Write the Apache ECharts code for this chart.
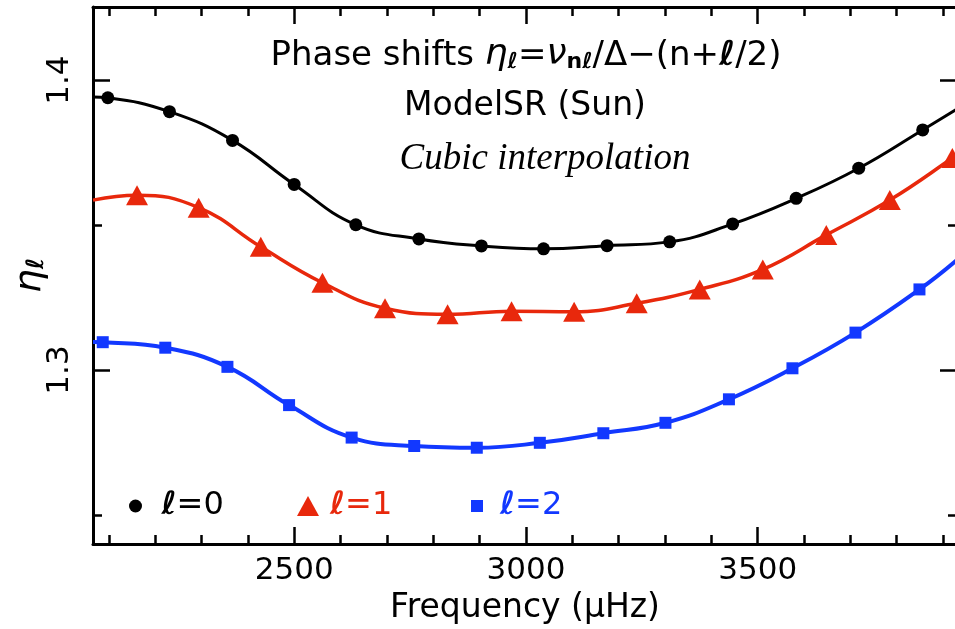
<!DOCTYPE html>
<html><head><meta charset="utf-8">
<script src="https://cdn.jsdelivr.net/npm/echarts@6/dist/echarts.min.js"></script>
<style>html,body{margin:0;padding:0;background:#fff}#c{width:955px;height:629px}</style>
</head><body><div id="c"></div>
<script>
// ---- data ----
const freqL0 = [2098, 2231, 2367, 2500, 2633, 2769, 2904, 3038, 3175, 3310, 3446, 3583, 3718, 3856];
const etaL0  = [1.3939, 1.3891, 1.3792, 1.3640, 1.3501, 1.3452, 1.3428, 1.3418, 1.3429, 1.3442, 1.3504, 1.3592, 1.3696, 1.3828];
const freqL1 = [2161, 2294, 2428, 2561, 2696, 2831, 2969, 3104, 3239, 3375, 3511, 3648, 3785, 3920];
const etaL1  = [1.3603, 1.3560, 1.3425, 1.3301, 1.3213, 1.3192, 1.3203, 1.3201, 1.3230, 1.3278, 1.3347, 1.3466, 1.3586, 1.3731];
const freqL2 = [2087, 2222, 2356, 2489, 2624, 2759, 2894, 3030, 3167, 3301, 3438, 3575, 3711, 3849];
const etaL2  = [1.3096, 1.3077, 1.3011, 1.2879, 1.2767, 1.2738, 1.2732, 1.2749, 1.2782, 1.2818, 1.2899, 1.3006, 1.3129, 1.3278];
// interpolated curve values read at the frame edges
const edgeFreq = [2066, 3930];
const edgeL0 = [1.3942, 1.3900];
const edgeL1 = [1.3586, 1.3745];
const edgeL2 = [1.3097, 1.3380];
const seriesNames = ['ℓ=0', 'ℓ=1', 'ℓ=2'];
// axes
const xRange = [2066, 3930];
const yRange = [1.24, 1.4252];
const xMajorTicks = [2500, 3000, 3500];
const xMinorTicks = [2100, 2200, 2300, 2400, 2600, 2700, 2800, 2900, 3100, 3200, 3300, 3400, 3600, 3700, 3800, 3900];
const yMajorTicks = [1.3, 1.4];
const yMinorTicks = [1.25, 1.35];

const FONT = 'DejaVu Sans';
const C0 = '#000000', C1 = '#e8280c', C2 = '#1238ff';
const TRI = 'path://M11,0L22,20L0,20Z';
const SQR = 'path://M0,0L12,0L12,12L0,12Z';

function pairs(xs, ys) { return xs.map((x, i) => [x, ys[i]]); }
function curve(xs, ys, ex, ey) { return [[ex[0], ey[0]]].concat(pairs(xs, ys), [[ex[1], ey[1]]]); }

function axis(dim, position, ticks, len, opts) {
  const a = {
    type: 'value', position: position,
    min: dim === 'x' ? xRange[0] : yRange[0],
    max: dim === 'x' ? xRange[1] : yRange[1],
    axisLine: { show: !!opts.line, onZero: false, lineStyle: { color: '#000', width: 3 } },
    axisTick: { show: true, inside: true, length: len, customValues: ticks, lineStyle: { color: '#000', width: 2.5 } },
    axisLabel: { show: false },
    splitLine: { show: false }
  };
  if (opts.label) {
    a.axisLabel = Object.assign({ show: true, customValues: ticks, color: '#000', fontFamily: FONT, fontSize: 31,
      formatter: v => String(v) }, opts.label);
  }
  if (opts.name) Object.assign(a, opts.name);
  return a;
}

function legendFor(i, icon, color, left, w, h) {
  return {
    data: [{ name: seriesNames[i], icon: icon }], left: left, top: 485,
    itemWidth: w, itemHeight: h, selectedMode: false, symbolKeepAspect: true,
    itemStyle: { color: color, opacity: 1 },
    formatter: n => '{l|' + n.charAt(0) + '}{t|' + n.slice(1) + '}',
    textStyle: { rich: {
      l: { fontFamily: FONT, fontSize: 32, fontStyle: 'italic', fontWeight: 'bold', color: color },
      t: { fontFamily: FONT, fontSize: 32, color: color }
    } }
  };
}

const chart = echarts.init(document.getElementById('c'), null, { renderer: 'canvas' });
chart.setOption({
  backgroundColor: '#fff',
  animation: false,
  grid: { left: 93, top: 7, width: 864, height: 537, containLabel: false, outerBoundsMode: 'none' },
  xAxis: [
    axis('x', 'bottom', xMajorTicks, 17, {
      line: true, label: { margin: 11 },
      name: { name: 'Frequency (μHz)', nameLocation: 'middle', nameGap: 48, nameMoveOverlap: false,
              nameTextStyle: { color: '#000', fontFamily: FONT, fontSize: 33 } }
    }),
    axis('x', 'bottom', xMinorTicks, 9, {}),
    axis('x', 'top', xMajorTicks, 17, { line: true }),
    axis('x', 'top', xMinorTicks, 9, {})
  ],
  yAxis: [
    axis('y', 'left', yMajorTicks, 17, {
      line: true, label: { rotate: 90, margin: 18 },
      name: { name: '{b|η}{s|ℓ}', nameLocation: 'middle', nameGap: 44, nameRotate: 90, nameMoveOverlap: false,
              nameTextStyle: { rich: {
                b: { fontFamily: FONT, fontSize: 38, fontStyle: 'italic', color: '#000', lineHeight: 48, verticalAlign: 'bottom' },
                s: { fontFamily: FONT, fontSize: 24, fontWeight: 'bold', fontStyle: 'italic', color: '#000', lineHeight: 24, verticalAlign: 'bottom' }
              } } }
    }),
    axis('y', 'left', yMinorTicks, 9, {}),
    axis('y', 'right', yMajorTicks, 17, { line: true }),
    axis('y', 'right', yMinorTicks, 9, {})
  ],
  legend: [
    legendFor(0, 'circle', C0, 124, 42, 13),
    legendFor(1, TRI, C1, 292, 34, 20),
    legendFor(2, SQR, C2, 466, 36, 12)
  ],
  graphic: [
    { type: 'text', x: 526, y: 53, style: {
        text: '{a|Phase shifts }{b|η}{s|ℓ}{a|=}{b|ν}{s|nℓ}{a|/Δ−(n+}{l|ℓ}{a|/2)}',
        align: 'center', verticalAlign: 'middle',
        rich: {
          a: { fontFamily: FONT, fontSize: 34, fill: '#000', lineHeight: 40, verticalAlign: 'bottom' },
          b: { fontFamily: FONT, fontSize: 36, fontStyle: 'italic', fill: '#000', lineHeight: 40, verticalAlign: 'bottom' },
          l: { fontFamily: FONT, fontSize: 34, fontStyle: 'italic', fontWeight: 'bold', fill: '#000', lineHeight: 40, verticalAlign: 'bottom' },
          s: { fontFamily: FONT, fontSize: 22, fontWeight: 'bold', fill: '#000', lineHeight: 18, verticalAlign: 'bottom' }
        } } },
    { type: 'text', x: 525, y: 106, style: { text: 'ModelSR (Sun)', align: 'center', verticalAlign: 'middle',
        font: '33px "DejaVu Sans"', fill: '#000' } },
    { type: 'text', x: 545, y: 159, style: { text: 'Cubic interpolation', align: 'center', verticalAlign: 'middle',
        font: 'italic 37px "Liberation Serif"', fill: '#000' } }
  ],
  series: [
    { type: 'line', name: 'curve0', data: curve(freqL0, etaL0, edgeFreq, edgeL0), smooth: 0.45, symbol: 'none',
      lineStyle: { color: C0, width: 3 }, silent: true, z: 2 },
    { type: 'line', name: 'curve1', data: curve(freqL1, etaL1, edgeFreq, edgeL1), smooth: 0.45, symbol: 'none',
      lineStyle: { color: C1, width: 3.5 }, silent: true, z: 2 },
    { type: 'line', name: 'curve2', data: curve(freqL2, etaL2, edgeFreq, edgeL2), smooth: 0.45, symbol: 'none',
      lineStyle: { color: C2, width: 4 }, silent: true, z: 2 },
    { type: 'scatter', name: seriesNames[0], data: pairs(freqL0, etaL0), symbol: 'circle', symbolSize: 13,
      itemStyle: { color: C0, opacity: 1 }, z: 3 },
    { type: 'scatter', name: seriesNames[1], data: pairs(freqL1, etaL1), symbol: 'triangle', symbolSize: [22, 20],
      itemStyle: { color: C1, opacity: 1 }, z: 3 },
    { type: 'scatter', name: seriesNames[2], data: pairs(freqL2, etaL2), symbol: 'rect', symbolSize: 12,
      itemStyle: { color: C2, opacity: 1 }, z: 3 }
  ]
});
</script></body></html>
